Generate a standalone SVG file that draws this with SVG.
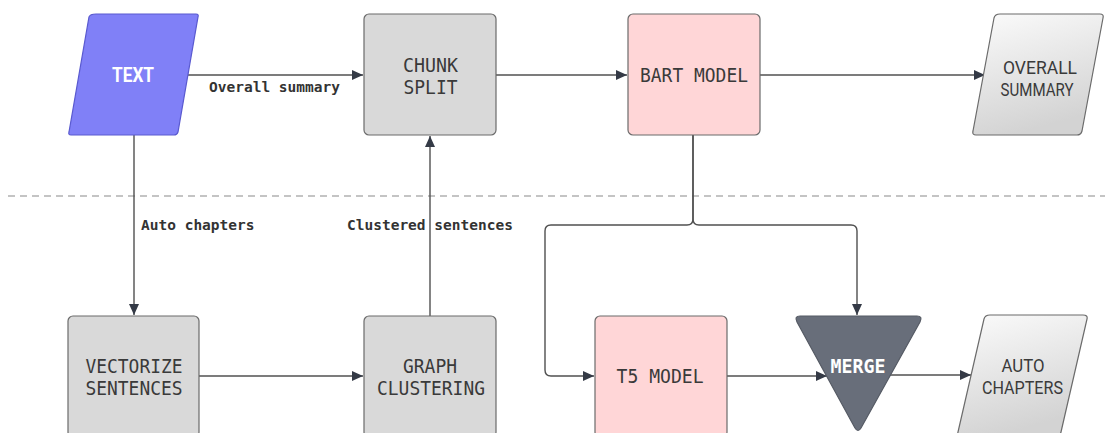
<svg xmlns="http://www.w3.org/2000/svg" width="1105" height="433" viewBox="0 0 1105 433">
<style>
.box{stroke:#6b6b6b;stroke-width:1.2}
.grey{fill:#d9d9d9}
.pink{fill:#ffd6d7}
.io{fill:url(#ioGrad);stroke:#6b6b6b;stroke-width:1.2;stroke-linejoin:round}
.lbl{font-family:"DejaVu Sans Mono","Liberation Mono",monospace;font-size:20px;fill:#3a3a3a;text-anchor:middle}
.sans{font-family:Roboto,"Liberation Sans",sans-serif;font-size:19px;fill:#3a3a3a;text-anchor:middle}
.edge{font-family:"DejaVu Sans Mono","Liberation Mono",monospace;font-size:14.5px;font-weight:bold;fill:#333}
.con{fill:none;stroke:#505050;stroke-width:1.4}
</style>
<defs>
<linearGradient id="ioGrad" x1="0" y1="0" x2="0.3" y2="1">
<stop offset="0" stop-color="#fbfbfb"/>
<stop offset="1" stop-color="#d3d3d3"/>
</linearGradient>
<marker id="arr" markerUnits="userSpaceOnUse" markerWidth="12" markerHeight="10" refX="11" refY="5" orient="auto">
<path d="M0,0 L11,5 L0,10 z" fill="#343a46"/>
</marker>
</defs>

<line x1="8" y1="196" x2="1105" y2="196" stroke="#8a8a8a" stroke-width="1.2" stroke-dasharray="7,5"/>

<g id="connectors">
<line class="con" x1="187" y1="75" x2="363" y2="75" marker-end="url(#arr)"/>
<line class="con" x1="496" y1="75" x2="627" y2="75" marker-end="url(#arr)"/>
<line class="con" x1="760" y1="75" x2="985" y2="75" marker-end="url(#arr)"/>
<line class="con" x1="134" y1="134" x2="134" y2="315" marker-end="url(#arr)"/>
<line class="con" x1="199" y1="376" x2="363" y2="376" marker-end="url(#arr)"/>
<line class="con" x1="430" y1="316" x2="430" y2="136" marker-end="url(#arr)"/>
<path class="con" d="M693,134 V219 Q693,225 687,225 H551 Q545,225 545,231 V370 Q545,376 551,376 H594" marker-end="url(#arr)"/>
<path class="con" d="M693,134 V219 Q693,225 699,225 H851 Q857,225 857,231 V315" marker-end="url(#arr)"/>
<line class="con" x1="727" y1="376" x2="827" y2="376" marker-end="url(#arr)"/>
<line class="con" x1="890" y1="375" x2="971" y2="375" marker-end="url(#arr)"/>
<text class="edge" x="209" y="92">Overall summary</text>
<text class="edge" x="141" y="230">Auto chapters</text>
<text class="edge" x="347" y="230">Clustered sentences</text>
</g>

<g id="text-node">
<path d="M96,14 H196 Q199,14 198,17 L178,132 Q177,135 174,135 H71 Q68,135 69,132 L89,17 Q90,14 96,14 Z" fill="#8080f7" stroke="#5a5ad0" stroke-width="1.2"/>
<text class="sans" x="133" y="82" style="fill:#fff;font-weight:bold;font-size:20px" textLength="42" lengthAdjust="spacingAndGlyphs">TEXT</text>
</g>

<g id="chunk-split">
<rect class="box grey" x="364" y="14" width="132" height="121" rx="5"/>
<text class="lbl" x="430.5" y="72" textLength="55" lengthAdjust="spacingAndGlyphs">CHUNK</text>
<text class="lbl" x="430.5" y="94" textLength="54" lengthAdjust="spacingAndGlyphs">SPLIT</text>
</g>

<g id="bart-model">
<rect class="box pink" x="628" y="14" width="132" height="121" rx="5"/>
<text class="lbl" x="694" y="82" textLength="108" lengthAdjust="spacingAndGlyphs">BART MODEL</text>
</g>

<g id="overall-summary">
<path class="io" d="M1000,14 H1100 Q1104,14 1103,18 L1082,131 Q1081,135 1077,135 H976 Q972,135 973,131 L994,18 Q995,14 1000,14 Z"/>
<text class="sans" x="1040" y="74" textLength="74" lengthAdjust="spacingAndGlyphs">OVERALL</text>
<text class="sans" x="1037" y="96" textLength="73" lengthAdjust="spacingAndGlyphs">SUMMARY</text>
</g>

<g id="vectorize-sentences">
<rect class="box grey" x="68" y="316" width="131" height="121" rx="5"/>
<text class="lbl" x="134" y="373" textLength="97" lengthAdjust="spacingAndGlyphs">VECTORIZE</text>
<text class="lbl" x="134" y="395" textLength="97" lengthAdjust="spacingAndGlyphs">SENTENCES</text>
</g>

<g id="graph-clustering">
<rect class="box grey" x="364" y="316" width="132" height="121" rx="5"/>
<text class="lbl" x="430" y="373" textLength="54" lengthAdjust="spacingAndGlyphs">GRAPH</text>
<text class="lbl" x="431" y="395" textLength="108" lengthAdjust="spacingAndGlyphs">CLUSTERING</text>
</g>

<g id="t5-model">
<rect class="box pink" x="595" y="316" width="132" height="121" rx="5"/>
<text class="lbl" x="660" y="383" textLength="87" lengthAdjust="spacingAndGlyphs">T5 MODEL</text>
</g>

<g id="merge">
<path d="M800,316 H917 Q923,316 920,322 L861,428 Q858,433 855,428 L797,322 Q794,316 800,316 Z" fill="#686e7a" stroke="#555a64" stroke-width="1.2"/>
<text class="lbl" x="858" y="373" style="fill:#fff;font-weight:bold" textLength="55" lengthAdjust="spacingAndGlyphs">MERGE</text>
</g>

<g id="auto-chapters">
<path class="io" d="M990,315 H1083 Q1088,315 1087,319 L1061,432 Q1060,436 1056,436 H961 Q957,436 958,432 L984,319 Q985,315 990,315 Z"/>
<text class="sans" x="1023" y="372" textLength="43" lengthAdjust="spacingAndGlyphs">AUTO</text>
<text class="sans" x="1022.5" y="394" textLength="81" lengthAdjust="spacingAndGlyphs">CHAPTERS</text>
</g>
</svg>
